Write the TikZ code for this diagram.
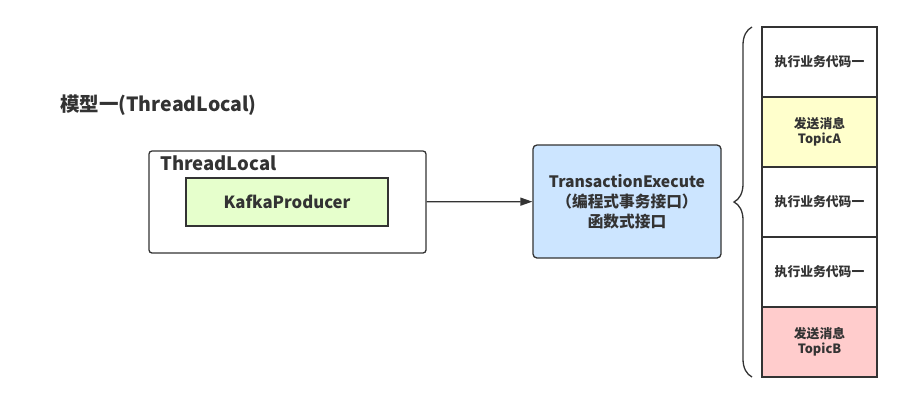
\documentclass[tikz,border=0pt]{standalone}
\usepackage{fontspec}
\setmainfont{Noto Sans CJK SC}
\usetikzlibrary{arrows.meta,decorations.pathreplacing}
\definecolor{linegray}{HTML}{333333}
\definecolor{kafkagreen}{HTML}{E6FFCC}
\definecolor{execblue}{HTML}{CCE5FF}
\definecolor{topicyellow}{HTML}{FFFFCC}
\definecolor{topicred}{HTML}{FFCCCC}
\begin{document}
\begin{tikzpicture}[
    x=1pt, y=-1pt,
    % Стиль для рамок: тёмно-серая граница
    box/.style={draw=linegray, line width=1.3pt, text=linegray, font=\bfseries, align=center, inner sep=0pt},
    % Стиль для ячеек правого столбца
    cell/.style={box, minimum width=115pt, minimum height=70pt, font=\bfseries\fontsize{12.8}{15}\selectfont},
    % Стиль для стрелки
    link/.style={draw=linegray, line width=1.3pt, -{Triangle[length=12pt,width=8pt]}}
]
    \useasboundingbox (0,0) rectangle (916,400);

    % --- Заголовок ---
    \node[anchor=west, text=linegray, font=\bfseries\fontsize{19.5}{22}\selectfont, inner sep=0pt] (title) at (60,105) {模型一(ThreadLocal)};

    % --- Левая часть: ThreadLocal и KafkaProducer ---
    \node[box, rounded corners=3pt, minimum width=277pt, minimum height=102pt] (tl) at (287.5,202) {};
    \node[anchor=west, text=linegray, font=\bfseries\fontsize{18.5}{20}\selectfont, inner sep=0pt] (tllabel) at (160,163) {ThreadLocal};
    \node[box, fill=kafkagreen, minimum width=202pt, minimum height=48pt, font=\bfseries\fontsize{16.7}{18}\selectfont] (kafka) at (287,202) {KafkaProducer};

    % --- Интерфейс TransactionExecute ---
    \node[box, fill=execblue, rounded corners=4pt, minimum width=188pt, minimum height=113pt, font=\bfseries\fontsize{15.7}{20}\selectfont] (exec) at (627,201.5) {TransactionExecute\\（编程式事务接口）\\函数式接口};

    % --- Стрелка ---
    \draw[link] (tl) -- (exec);

    % --- Правый столбец ---
    \node[cell] (c1) at (819.5,62) {执行业务代码一};
    \node[cell, fill=topicyellow] (c2) at (819.5,132) {发送消息\\TopicA};
    \node[cell] (c3) at (819.5,202) {执行业务代码一};
    \node[cell] (c4) at (819.5,272) {执行业务代码一};
    \node[cell, fill=topicred] (c5) at (819.5,342) {发送消息\\TopicB};

    % --- Фигурная скобка ---
    \coordinate (bb) at (752,377);
    \coordinate (bt) at (752,27);
    \draw[draw=linegray, line width=1.3pt, decorate, decoration={brace, amplitude=18pt}] (bb) -- (bt);

\end{tikzpicture}
\end{document}
